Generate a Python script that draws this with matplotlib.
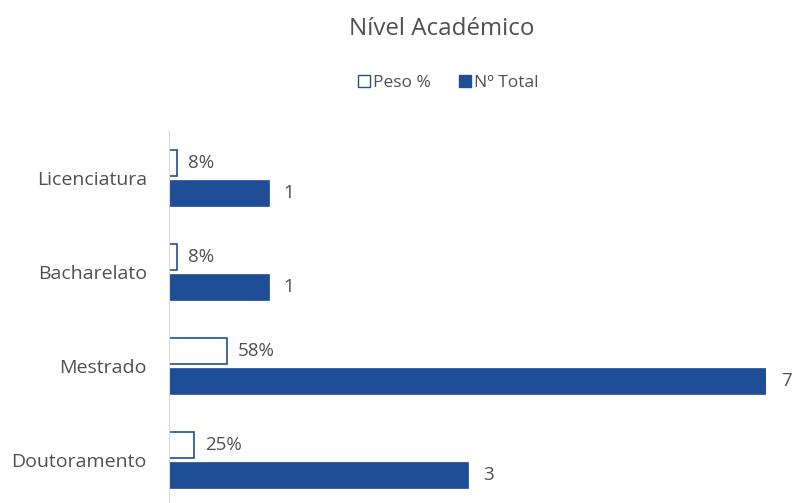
import matplotlib

matplotlib.use("Agg")
import matplotlib.pyplot as plt
from matplotlib.patches import Patch

plt.rcParams.update({"font.family": ["Open Sans", "DejaVu Sans"], "font.size": 12})

# data, bottom to top
categories = ["Doutoramento", "Mestrado", "Bacharelato", "Licenciatura"]
peso = [0.25, 0.58, 0.08, 0.08]
peso_labels = ["25%", "58%", "8%", "8%"]
total = [3, 7, 1, 1]

BLUE = "#1F4E96"
TXT = "#505050"
XMAX = 6

fig = plt.figure(figsize=(7.92, 5.03), dpi=100)
ax = fig.add_axes([169 / 792, -4 / 503, 597 / 792, 376 / 503])

ypos = list(range(len(categories)))
h = 0.27
off = 0.16
ax.barh([y + off for y in ypos], peso, height=h, color="white", edgecolor=BLUE, linewidth=1.2)
ax.barh([y - off for y in ypos], total, height=h, color=BLUE, edgecolor=BLUE, linewidth=0.5)

for y, v, lab in zip(ypos, peso, peso_labels):
    ax.annotate(lab, (v, y + off), xytext=(8, 0), textcoords="offset points",
                va="center", ha="left", color=TXT, fontsize=13.5)
for y, v in zip(ypos, total):
    ax.annotate(str(v), (min(v, XMAX), y - off), xytext=(11, 0), textcoords="offset points",
                va="center", ha="left", color=TXT, fontsize=13.5, annotation_clip=False)

ax.set_xlim(0, XMAX)
ax.set_ylim(-0.5, len(categories) - 0.5)
ax.set_yticks(ypos)
ax.set_yticklabels(categories, color=TXT, fontsize=14)
ax.tick_params(axis="y", length=0, pad=16)
ax.set_xticks([])
for s in ["top", "right", "bottom"]:
    ax.spines[s].set_visible(False)
ax.spines["left"].set_color("#d9d9d9")

fig.text(0.558, 0.942, "Nível Académico", ha="center", va="center", color=TXT, fontsize=17.4)
handles = [Patch(facecolor="white", edgecolor=BLUE, label="Peso %"),
           Patch(facecolor=BLUE, edgecolor=BLUE, label="Nº Total")]
fig.legend(handles=handles, loc="center", bbox_to_anchor=(0.566, 0.835), ncol=2, frameon=False,
           handlelength=0.7, handleheight=0.7, handletextpad=0.2, columnspacing=1.6,
           fontsize=12.5, labelcolor=TXT)

fig.savefig("out.png", dpi=100, facecolor="white")
